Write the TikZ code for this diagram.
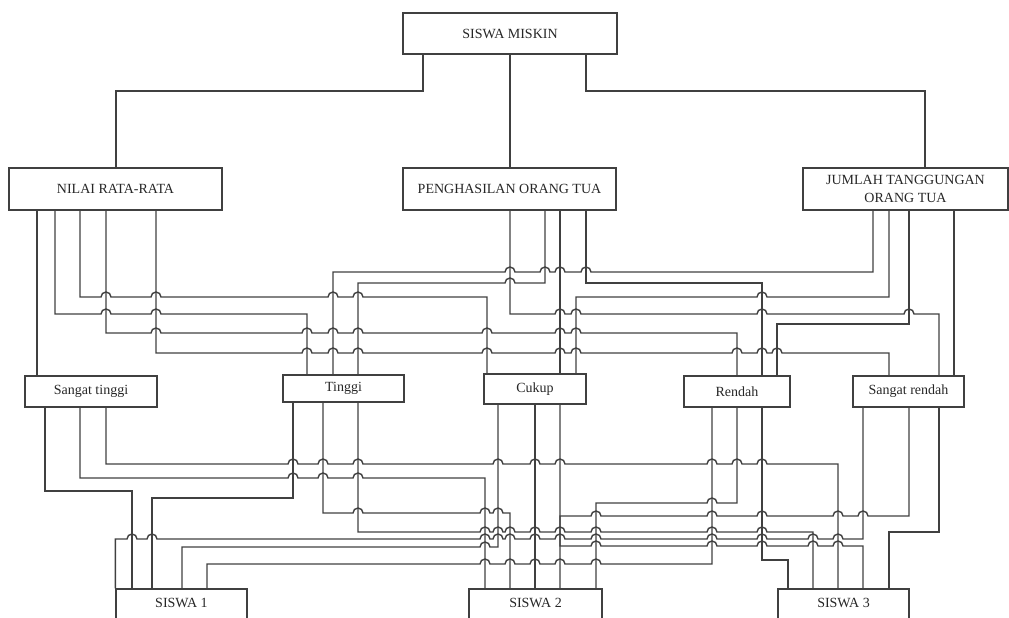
\documentclass[tikz,border=0pt]{standalone}
\usepackage{fontspec}
\setmainfont{Liberation Serif}
\tikzset{
  box/.style={draw=black!75, line width=1.3pt, inner sep=1pt, align=center,
    text=black!85, font=\fontsize{14}{18}\selectfont},
  wire/.style={draw=black!75, line width=1.4pt},
}
% a hop over a vertical wire, going right or going left
\newcommand\hopr[2]{-- ({#1-5},#2) arc[start angle=180,end angle=0,radius=5pt]}
\newcommand\hopl[2]{-- ({#1+5},#2) arc[start angle=0,end angle=180,radius=5pt]}
\begin{document}
\begin{tikzpicture}[x=1pt,y=-1pt]
\useasboundingbox (0,0) rectangle (1009,618);
\clip (0,0) rectangle (1009,618);
% boxes
\node[box, minimum width=214pt, minimum height=41pt] (miskin) at (510,33.5) {SISWA MISKIN};
\node[box, minimum width=213pt, minimum height=42pt] (nilai) at (115.5,189) {NILAI RATA-RATA};
\node[box, minimum width=213pt, minimum height=42pt] (hasil) at (509.5,189) {PENGHASILAN ORANG TUA};
\node[box, minimum width=205pt, minimum height=42pt] (tanggung) at (905.5,189) {JUMLAH TANGGUNGAN\\ORANG TUA};
\node[box, minimum width=132pt, minimum height=31pt] (st) at (91,391.5) {Sangat tinggi};
\node[box, minimum width=121pt, minimum height=27pt] (ti) at (343.5,388.5) {Tinggi};
\node[box, minimum width=102pt, minimum height=30pt] (cu) at (535,389) {Cukup};
\node[box, minimum width=106pt, minimum height=31pt] (re) at (737,391.5) {Rendah};
\node[box, minimum width=111pt, minimum height=31pt] (sr) at (908.5,391.5) {Sangat rendah};
\node[box, minimum width=131pt, minimum height=40pt, text depth=12pt] (s1) at (181.5,609) {SISWA 1};
\node[box, minimum width=133pt, minimum height=40pt, text depth=12pt] (s2) at (535.5,609) {SISWA 2};
\node[box, minimum width=131pt, minimum height=40pt, text depth=12pt] (s3) at (843.5,609) {SISWA 3};
% top
\draw[wire] (miskin.south -| 423,0) |- (116,91) -- (nilai.north -| 116,0);
\draw[wire] (miskin.south -| 510,0) -- (hasil.north -| 510,0);
\draw[wire] (miskin.south -| 586,0) |- (925,91) -- (tanggung.north -| 925,0);
% nilai rata-rata
\draw[wire] (nilai.south -| 37,0) -- (st.north -| 37,0);
\draw[wire] (nilai.south -| 55,0) -- (55,314) \hopr{106}{314} \hopr{156}{314} -- (307,314) -- (ti.north -| 307,0);
\draw[wire] (nilai.south -| 80,0) -- (80,297) \hopr{106}{297} \hopr{156}{297} \hopr{333}{297} \hopr{358}{297} -- (487,297) -- (cu.north -| 487,0);
\draw[wire] (nilai.south -| 106,0) -- (106,333) \hopr{156}{333} \hopr{307}{333} \hopr{333}{333} \hopr{358}{333} \hopr{487}{333} \hopr{560}{333} \hopr{576}{333} -- (737,333) -- (re.north -| 737,0);
\draw[wire] (nilai.south -| 156,0) -- (156,353) \hopr{307}{353} \hopr{333}{353} \hopr{358}{353} \hopr{487}{353} \hopr{560}{353} \hopr{576}{353} \hopr{737}{353} \hopr{762}{353} \hopr{777}{353} -- (889,353) -- (sr.north -| 889,0);
% penghasilan orang tua
\draw[wire] (hasil.south -| 510,0) -- (510,314) \hopr{560}{314} \hopr{576}{314} \hopr{762}{314} \hopr{909}{314} -- (939,314) -- (sr.north -| 939,0);
\draw[wire] (hasil.south -| 545,0) -- (545,283) \hopl{510}{283} -- (358,283) -- (ti.north -| 358,0);
\draw[wire] (hasil.south -| 560,0) -- (cu.north -| 560,0);
\draw[wire] (hasil.south -| 586,0) -- (586,283) -- (762,283) -- (re.north -| 762,0);
% jumlah tanggungan orang tua
\draw[wire] (tanggung.south -| 873,0) -- (873,272) \hopl{586}{272} \hopl{560}{272} \hopl{545}{272} \hopl{510}{272} -- (333,272) -- (ti.north -| 333,0);
\draw[wire] (tanggung.south -| 889,0) -- (889,297) \hopl{762}{297} -- (576,297) -- (cu.north -| 576,0);
\draw[wire] (tanggung.south -| 909,0) -- (909,324) -- (777,324) -- (re.north -| 777,0);
\draw[wire] (tanggung.south -| 954,0) -- (sr.north -| 954,0);
% sangat tinggi
\draw[wire] (st.south -| 45,0) -- (45,491) -- (132,491) -- (s1.north -| 132,0);
\draw[wire] (st.south -| 80,0) -- (80,478) \hopr{293}{478} \hopr{323}{478} \hopr{358}{478} -- (485,478) -- (s2.north -| 485,0);
\draw[wire] (st.south -| 106,0) -- (106,464) \hopr{293}{464} \hopr{323}{464} \hopr{358}{464} \hopr{498}{464} \hopr{535}{464} \hopr{560}{464} \hopr{712}{464} \hopr{737}{464} \hopr{762}{464} -- (838,464) -- (s3.north -| 838,0);
% tinggi
\draw[wire] (ti.south -| 293,0) -- (293,498) -- (152,498) -- (s1.north -| 152,0);
\draw[wire] (ti.south -| 323,0) -- (323,513) \hopr{358}{513} \hopr{485}{513} \hopr{498}{513} -- (510,513) -- (s2.north -| 510,0);
\draw[wire] (ti.south -| 358,0) -- (358,532) \hopr{485}{532} \hopr{498}{532} \hopr{510}{532} \hopr{535}{532} \hopr{560}{532} \hopr{596}{532} \hopr{712}{532} \hopr{762}{532} -- (813,532) -- (s3.north -| 813,0);
% cukup
\draw[wire] (cu.south -| 498,0) -- (498,547) \hopl{485}{547} -- (182,547) -- (s1.north -| 182,0);
\draw[wire] (cu.south -| 535,0) -- (s2.north -| 535,0);
\draw[wire] (cu.south -| 560,0) -- (560,546) \hopr{596}{546} \hopr{712}{546} \hopr{762}{546} \hopr{813}{546} \hopr{838}{546} -- (863,546) -- (s3.north -| 863,0);
% rendah
\draw[wire] (re.south -| 712,0) -- (712,564) \hopl{596}{564} \hopl{560}{564} \hopl{535}{564} \hopl{510}{564} \hopl{485}{564} -- (207,564) -- (s1.north -| 207,0);
\draw[wire] (re.south -| 737,0) -- (737,503) \hopl{712}{503} -- (596,503) -- (s2.north -| 596,0);
\draw[wire] (re.south -| 762,0) -- (762,560) -- (788,560) -- (s3.north -| 788,0);
% sangat rendah
\draw[wire] (sr.south -| 863,0) -- (863,539) \hopl{838}{539} \hopl{813}{539} \hopl{762}{539} \hopl{712}{539} \hopl{596}{539} \hopl{560}{539} \hopl{535}{539} \hopl{510}{539} \hopl{498}{539} \hopl{485}{539} \hopl{152}{539} \hopl{132}{539} -- (s1.north west |- 0,539) -- (s1.north west);
\draw[wire] (sr.south -| 909,0) -- (909,516) \hopl{863}{516} \hopl{838}{516} \hopl{762}{516} \hopl{712}{516} \hopl{596}{516} -- (560,516) -- (s2.north -| 560,0);
\draw[wire] (sr.south -| 939,0) -- (939,532) -- (889,532) -- (s3.north -| 889,0);
\end{tikzpicture}
\end{document}
